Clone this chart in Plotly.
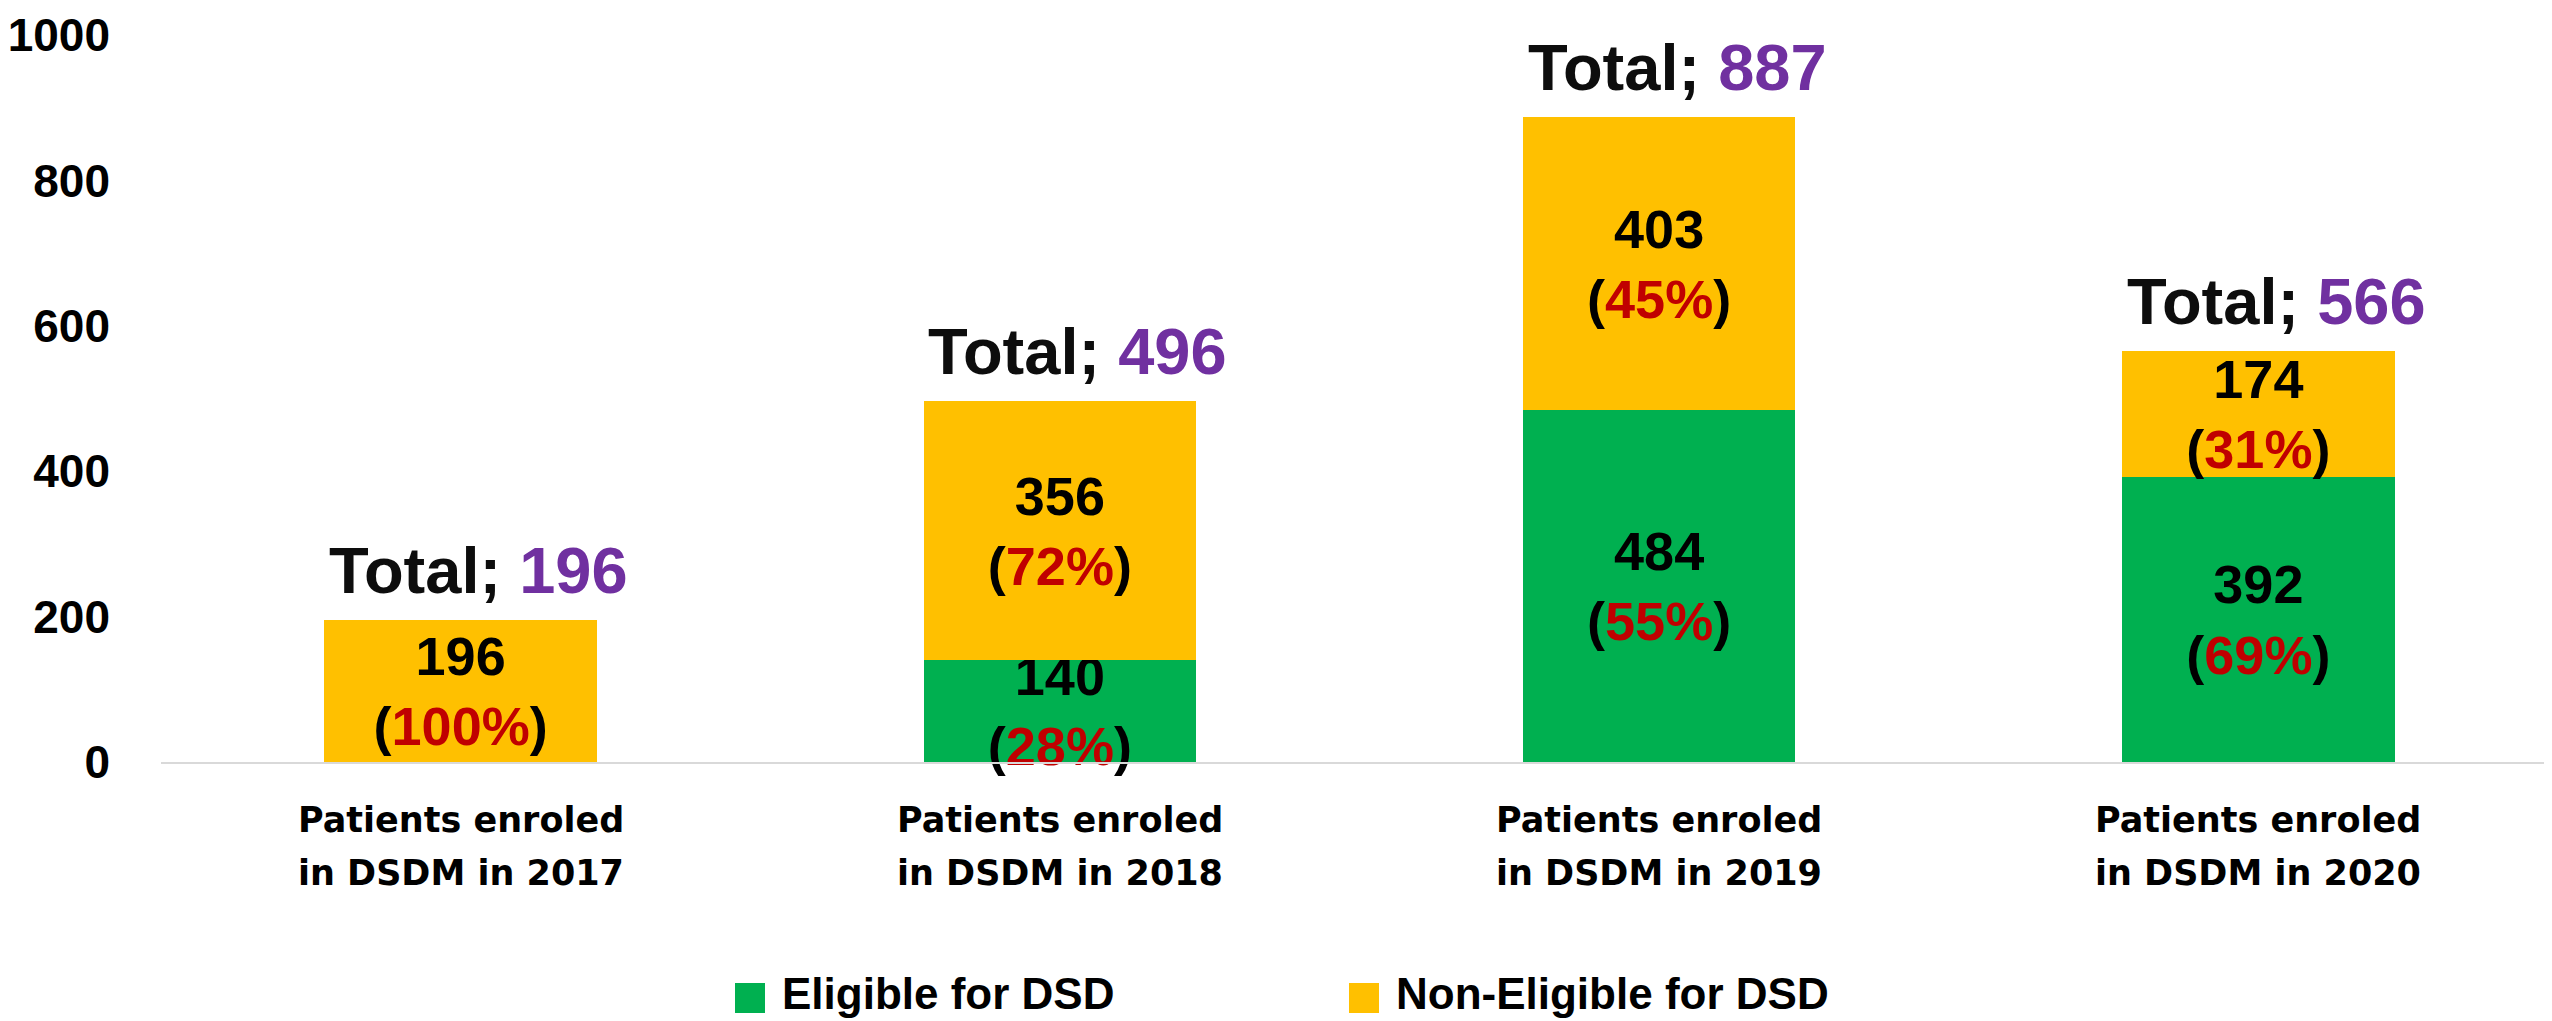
import plotly.graph_objects as go

# chart data
categorias = ['Patients enroled in DSDM in 2017', 'Patients enroled in DSDM in 2018',
              'Patients enroled in DSDM in 2019', 'Patients enroled in DSDM in 2020']
linha_1 = ['Patients enroled', 'Patients enroled', 'Patients enroled', 'Patients enroled']
linha_2 = ['in DSDM in 2017', 'in DSDM in 2018', 'in DSDM in 2019', 'in DSDM in 2020']
elegivel = [0, 140, 484, 392]
elegivel_pct = [0, 28, 55, 69]
nao_elegivel = [196, 356, 403, 174]
nao_elegivel_pct = [100, 72, 45, 31]
totais = [196, 496, 887, 566]
series = ['Eligible for DSD', 'Non-Eligible for DSD']
y_ticks = [0, 200, 400, 600, 800, 1000]

VERDE = '#00B050'
AMARELO = '#FFC000'
VERMELHO = '#C00000'
ROXO = '#7030A0'
FONTE = 'Liberation Sans'

# the page body has an 8px margin, so the figure is drawn 8px in
OFF = 8
W, H = 2552 - OFF, 1021 - OFF
L, T, B = 161 - OFF, 35 - OFF, 259
PW, PH = W - L, H - T - B


def px_x(p):
    # screen pixel -> paper x
    return (p - OFF - L) / PW


def px_y(p):
    # screen pixel -> paper y
    return (OFF + H - B - p) / PH


def rotulo(valor, pct):
    if not valor:
        return ''
    return f"{valor}<br>(<span style='color:{VERMELHO}'>{pct}%</span>)"


fig = go.Figure()
fig.add_trace(go.Bar(
    x=categorias, y=elegivel, name=series[0],
    marker=dict(color=VERDE, line=dict(width=0)), width=0.455,
    text=[rotulo(v, p) for v, p in zip(elegivel, elegivel_pct)],
    textposition='inside', insidetextanchor='middle', textangle=0,
    constraintext='none', cliponaxis=False,
    textfont=dict(family=FONTE, size=54, color='#000000', weight='bold'),
))
fig.add_trace(go.Bar(
    x=categorias, y=nao_elegivel, name=series[1],
    marker=dict(color=AMARELO, line=dict(width=0)), width=0.455,
    text=[rotulo(v, p) for v, p in zip(nao_elegivel, nao_elegivel_pct)],
    textposition='inside', insidetextanchor='middle', textangle=0,
    constraintext='none', cliponaxis=False,
    textfont=dict(family=FONTE, size=54, color='#000000', weight='bold'),
))

# totals above the stacks
for cat, tot in zip(categorias, totais):
    fig.add_annotation(
        x=cat, y=tot, xref='x', yref='y', yanchor='bottom', showarrow=False,
        xshift=18, yshift=11,
        text=f"Total; <span style='color:{ROXO}'>{tot}</span>",
        font=dict(family=FONTE, size=65, color='#0D0D0D', weight='bold'),
    )

# two-line category labels
for cat, l1, l2 in zip(categorias, linha_1, linha_2):
    for txt, yy in ((l1, 820), (l2, 873)):
        fig.add_annotation(
            x=cat, y=px_y(yy), xref='x', yref='paper', yanchor='middle', showarrow=False,
            text=txt, font=dict(family='DejaVu Sans', size=35, color='#000000', weight='bold'),
        )

# legend drawn by hand so the swatches are big
for nome, cor, x0 in zip(series, [VERDE, AMARELO], [735, 1349]):
    fig.add_shape(type='rect', xref='paper', yref='paper',
                  x0=px_x(x0), x1=px_x(x0 + 30), y0=px_y(1013), y1=px_y(983),
                  fillcolor=cor, line=dict(width=0))
    fig.add_annotation(
        x=px_x(x0 + 45), y=px_y(993), xref='paper', yref='paper', xanchor='left', yanchor='middle',
        showarrow=False, text=nome,
        font=dict(family=FONTE, size=44, color='#000000', weight='bold'),
    )

fig.update_layout(
    width=W, height=H,
    barmode='stack',
    showlegend=False,
    paper_bgcolor='#ffffff',
    plot_bgcolor='#ffffff',
    margin=dict(l=L, r=0, t=T, b=B, pad=0),
    font=dict(family=FONTE, color='#000000'),
    xaxis=dict(range=[-0.5, 3.49], showticklabels=False, ticks='', showgrid=False,
               showline=True, linecolor='#D9D9D9', linewidth=2, zeroline=False),
    yaxis=dict(range=[0, 1000], tickvals=y_ticks, showgrid=False, zeroline=False, showline=False,
               ticklabelstandoff=50,
               tickfont=dict(family=FONTE, size=46, color='#000000', weight='bold')),
)

fig.write_html('out.html')
